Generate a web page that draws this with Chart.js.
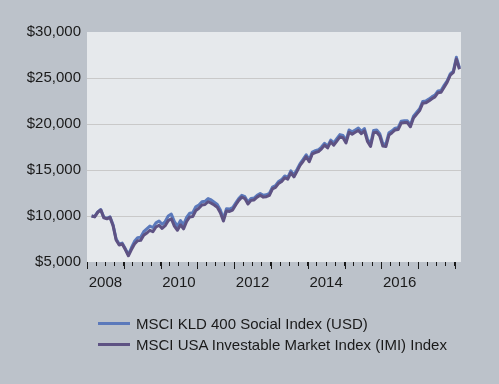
<!DOCTYPE html>
<html>
<head>
<meta charset="utf-8">
<script src="https://cdn.jsdelivr.net/npm/chart.js@4.4.1/dist/chart.umd.min.js"></script>
<style>
  html, body { margin: 0; padding: 0; background: #bcc2ca; }
  #wrap { position: relative; width: 499px; height: 384px; }
  #legend {
    position: absolute; left: 98px; top: 313px;
    font: 15px "Liberation Sans", Arial, sans-serif; color: #1a1a1a;
  }
  .item { display: flex; align-items: center; height: 21px; }
  .swatch { width: 32px; height: 3px; margin-right: 6px; }
</style>
</head>
<body>
<div id="wrap">
  <canvas id="chart" width="499" height="384"></canvas>
  <div id="legend"></div>
</div>
<script>
// monthly series, Feb 2008 .. Feb 2018 (growth of $10,000)
const startYear = 2008;
const startMonth = 1; // February

const seriesNames = [
  'MSCI KLD 400 Social Index (USD)',
  'MSCI USA Investable Market Index (IMI) Index'
];
const seriesColors = ['#5b79bb', '#5e5283'];

const kldValues = [
  10000, 9950, 10450, 10700, 9850, 9750, 9900, 9050, 7500, 6950, 7050, 6450,
  5800, 6550, 7250, 7650, 7700, 8300, 8600, 8900, 8750, 9250, 9450, 9100,
  9400, 10000, 10200, 9400, 8900, 9500, 9050, 9850, 10300, 10350, 11000, 11200,
  11550, 11600, 11900, 11750, 11500, 11250, 10650, 9700, 10800, 10750, 10900, 11400,
  11900, 12250, 12100, 11500, 11900, 11950, 12250, 12450, 12250, 12300, 12450, 13150,
  13300, 13750, 13950, 14350, 14200, 14900, 14450, 15050, 15700, 16150, 16650, 16100,
  16950, 17100, 17200, 17500, 17900, 17600, 18250, 17950, 18400, 18850, 18750, 18200,
  19350, 19150, 19350, 19550, 19200, 19500, 18350, 17800, 19300, 19350, 18950, 17850,
  17800, 19050, 19250, 19550, 19600, 20300, 20350, 20350, 19900, 20850, 21250, 21650,
  22450, 22500, 22700, 22950, 23150, 23600, 23650, 24200, 24700, 25450, 25750, 27250,
  26100
];

const imiValues = [
  10000, 9900, 10400, 10650, 9800, 9700, 9850, 8950, 7400, 6850, 6950, 6350,
  5680, 6350, 6950, 7300, 7350, 7900, 8150, 8450, 8300, 8800, 9000, 8650,
  8950, 9500, 9700, 8900, 8450, 9050, 8600, 9400, 9900, 9950, 10600, 10850,
  11200, 11250, 11550, 11400, 11200, 10950, 10350, 9450, 10550, 10500, 10650, 11200,
  11700, 12050, 11900, 11300, 11700, 11750, 12050, 12250, 12050, 12100, 12250, 12950,
  13100, 13550, 13750, 14150, 14000, 14700, 14250, 14850, 15500, 15950, 16450, 15900,
  16750, 16900, 17000, 17300, 17700, 17400, 18050, 17700, 18150, 18600, 18500, 17950,
  19100, 18900, 19100, 19300, 18950, 19250, 18100, 17550, 19050, 19100, 18700, 17600,
  17550, 18800, 19050, 19350, 19400, 20100, 20150, 20150, 19700, 20650, 21050, 21450,
  22250, 22300, 22500, 22750, 22950, 23400, 23450, 24000, 24550, 25300, 25600, 27050,
  25950
];

const yTicks = [5000, 10000, 15000, 20000, 25000, 30000];
const yearLabels = [2008, 2010, 2012, 2014, 2016];

// place each month at its mid-point on a fractional-year axis
function toPoints(values) {
  return values.map((v, i) => ({ x: startYear + (startMonth + i + 0.5) / 12, y: v }));
}

const FONT = { family: '"Liberation Sans", Arial, sans-serif', size: 15 };

const plotBackground = {
  id: 'plotBackground',
  beforeDraw(chart) {
    const { ctx, chartArea: a } = chart;
    ctx.save();
    ctx.fillStyle = '#e6e9ec';
    ctx.fillRect(a.left, a.top, a.right - a.left, a.bottom - a.top);
    ctx.restore();
  }
};

// longer tick marks at each year boundary
const yearTicks = {
  id: 'yearTicks',
  afterDraw(chart) {
    const { ctx, chartArea: a, scales } = chart;
    const xs = scales.x;
    ctx.save();
    ctx.strokeStyle = '#1a1a1a';
    ctx.lineWidth = 1;
    for (let yr = Math.ceil(xs.min); yr <= xs.max; yr++) {
      const px = Math.round(xs.getPixelForValue(yr)) + 0.5;
      ctx.beginPath();
      ctx.moveTo(px, a.bottom);
      ctx.lineTo(px, a.bottom + 7);
      ctx.stroke();
    }
    ctx.restore();
  }
};

new Chart(document.getElementById('chart'), {
  type: 'line',
  data: {
    datasets: [
      {
        label: seriesNames[0],
        data: toPoints(kldValues),
        borderColor: seriesColors[0],
        borderWidth: 3,
        pointRadius: 0,
        order: 1
      },
      {
        label: seriesNames[1],
        data: toPoints(imiValues),
        borderColor: seriesColors[1],
        borderWidth: 3,
        pointRadius: 0,
        order: 0
      }
    ]
  },
  options: {
    responsive: false,
    animation: false,
    layout: { padding: { left: 0, top: 32, right: 38, bottom: 92 } },
    plugins: { legend: { display: false }, tooltip: { enabled: false } },
    elements: { line: { tension: 0, borderJoinStyle: 'round' } },
    scales: {
      x: {
        type: 'linear',
        min: 2008,
        max: 2018 + 2 / 12,
        afterFit: (s) => { s.height = 30; },
        border: { display: false },
        grid: {
          drawOnChartArea: false,
          drawTicks: true,
          tickLength: 4,
          tickColor: '#1a1a1a'
        },
        ticks: {
          stepSize: 0.25,
          includeBounds: false,
          autoSkip: false,
          maxRotation: 0,
          padding: 8,
          color: '#1a1a1a',
          font: FONT,
          callback: (v) => {
            const yr = v - 0.5;
            return yearLabels.includes(yr) ? String(yr) : '';
          }
        }
      },
      y: {
        min: yTicks[0],
        max: yTicks[yTicks.length - 1],
        afterFit: (s) => { s.width = 87; },
        border: { display: false },
        grid: {
          drawTicks: false,
          color: (c) => (c.tick && (c.tick.value === yTicks[0] || c.tick.value === yTicks[yTicks.length - 1]))
            ? 'rgba(0,0,0,0)' : '#c9c9c9'
        },
        ticks: {
          stepSize: 5000,
          padding: 6,
          color: '#1a1a1a',
          font: FONT,
          callback: (v) => '$' + v.toLocaleString('en-US')
        }
      }
    }
  },
  plugins: [plotBackground, yearTicks]
});

// legend
const legend = document.getElementById('legend');
seriesNames.forEach((name, i) => {
  const row = document.createElement('div');
  row.className = 'item';
  row.innerHTML = '<span class="swatch" style="background:' + seriesColors[i] + '"></span><span>' + name + '</span>';
  legend.appendChild(row);
});
</script>
</body>
</html>
